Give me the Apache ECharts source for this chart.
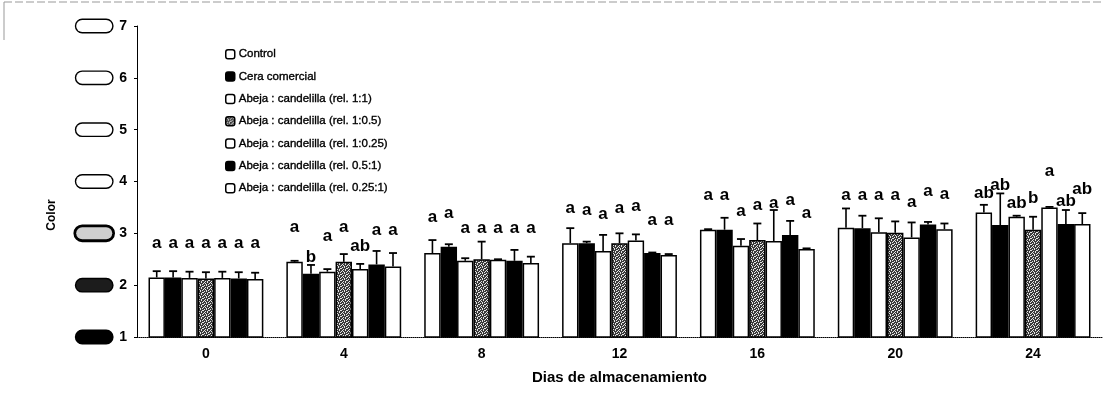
<!DOCTYPE html>
<html><head><meta charset="utf-8">
<script src="https://cdn.jsdelivr.net/npm/echarts@6/dist/echarts.min.js"></script>
<style>html,body{margin:0;padding:0;background:#fff}#c{width:1108px;height:408px}</style>
</head><body><div id="c"></div>
<script>
// ---- data ----
const categories = ['0', '4', '8', '12', '16', '20', '24'];
const seriesNames = [
  'Control',
  'Cera comercial',
  'Abeja : candelilla (rel. 1:1)',
  'Abeja : candelilla (rel. 1:0.5)',
  'Abeja : candelilla (rel. 1:0.25)',
  'Abeja : candelilla (rel. 0.5:1)',
  'Abeja : candelilla (rel. 0.25:1)'
];
const control      = [2.15, 2.45, 2.62, 2.81, 3.07, 3.11, 3.40];
const ceraComercial= [2.15, 2.22, 2.74, 2.81, 3.07, 3.10, 3.16];
const rel1_1       = [2.14, 2.26, 2.47, 2.66, 2.76, 3.02, 3.32];
const rel1_05      = [2.13, 2.45, 2.50, 2.81, 2.87, 3.01, 3.07];
const rel1_025     = [2.14, 2.31, 2.49, 2.86, 2.85, 2.92, 3.50];
const rel05_1      = [2.13, 2.40, 2.47, 2.62, 2.97, 3.17, 3.18];
const rel025_1     = [2.12, 2.36, 2.43, 2.58, 2.70, 3.08, 3.18];

const sdControl    = [0.12, 0.02, 0.25, 0.29, 0.01, 0.37, 0.15];
const sdCera       = [0.12, 0.17, 0.05, 0.03, 0.23, 0.24, 0.61];
const sd1_1        = [0.12, 0.05, 0.05, 0.31, 0.13, 0.27, 0.02];
const sd1_05       = [0.12, 0.15, 0.34, 0.19, 0.32, 0.22, 0.25];
const sd1_025      = [0.12, 0.10, 0.01, 0.12, 0.60, 0.29, 0.01];
const sd05_1       = [0.12, 0.26, 0.21, 0.01, 0.27, 0.05, 0.27];
const sd025_1      = [0.12, 0.26, 0.12, 0.02, 0.01, 0.11, 0.21];

const lettersControl = ['a','a','a','a','a','a','ab'];
const lettersCera    = ['a','b','a','a','a','a','ab'];
const letters1_1     = ['a','a','a','a','a','a','ab'];
const letters1_05    = ['a','a','a','a','a','a','b'];
const letters1_025   = ['a','ab','a','a','a','a','a'];
const letters05_1    = ['a','a','a','a','a','a','ab'];
const letters025_1   = ['a','a','a','a','a','a','ab'];

// height (in colour-scale units) at which each letter annotation sits
const letterLevelControl = [2.81, 3.12, 3.30, 3.49, 3.74, 3.74, 3.77];
const letterLevelCera    = [2.81, 2.54, 3.39, 3.45, 3.74, 3.74, 3.93];
const letterLevel1_1     = [2.81, 2.95, 3.10, 3.36, 3.42, 3.74, 3.58];
const letterLevel1_05    = [2.81, 3.12, 3.10, 3.49, 3.55, 3.74, 3.68];
const letterLevel1_025   = [2.81, 2.74, 3.10, 3.52, 3.58, 3.60, 4.19];
const letterLevel05_1    = [2.81, 3.06, 3.10, 3.26, 3.64, 3.82, 3.61];
const letterLevel025_1   = [2.81, 3.06, 3.10, 3.26, 3.39, 3.76, 3.84];

const yTicks = [1, 2, 3, 4, 5, 6, 7];

// ---- build ----
const values = [control, ceraComercial, rel1_1, rel1_05, rel1_025, rel05_1, rel025_1];
const sds = [sdControl, sdCera, sd1_1, sd1_05, sd1_025, sd05_1, sd025_1];
const letters = [lettersControl, lettersCera, letters1_1, letters1_05, letters1_025, letters05_1, letters025_1];
const letterLevels = [letterLevelControl, letterLevelCera, letterLevel1_1, letterLevel1_05, letterLevel1_025, letterLevel05_1, letterLevel025_1];

function speckle() {
  const c = document.createElement('canvas');
  c.width = 6; c.height = 6;
  const g = c.getContext('2d');
  g.fillStyle = '#3a3a3a'; g.fillRect(0, 0, 6, 6);
  g.fillStyle = '#e6e6e6';
  [[0,0],[3,0],[1,1],[4,2],[0,3],[2,3],[5,4],[3,5],[1,5],[5,1],[2,2],[4,4]].forEach(p => g.fillRect(p[0], p[1], 1, 1));
  return c;
}
const FONT = '"Liberation Sans", Arial, sans-serif';
const colors = ['#ffffff', '#000000', '#ffffff', { image: speckle(), repeat: 'repeat' }, '#ffffff', '#000000', '#ffffff'];
const GAP = '16.7%';

const series = [];
seriesNames.forEach((name, i) => {
  series.push({
    type: 'bar', name, data: values[i],
    barGap: '0%', barCategoryGap: GAP,
    itemStyle: { color: colors[i], borderColor: '#000', borderWidth: 1.5 },
    z: 2
  });
});
seriesNames.forEach((name, i) => {
  series.push({
    type: 'custom', name: 'err' + i, z: 3, silent: true,
    data: categories.map((c, j) => [j, values[i][j], sds[i][j], letterLevels[i][j]]),
    encode: { x: 0, y: 1 },
    renderItem: (params, api) => {
      const layout = api.barLayout({ barGap: '0%', barCategoryGap: GAP, count: seriesNames.length });
      const j = api.value(0);
      const v = api.value(1);
      const base = api.coord([j, v]);
      const top = api.coord([j, v + api.value(2)]);
      const ly = api.coord([j, api.value(3)])[1];
      const x = base[0] + layout[i].offsetCenter;
      const hw = 4;
      return {
        type: 'group', children: [
          { type: 'line', shape: { x1: x, y1: base[1], x2: x, y2: top[1] }, style: { stroke: '#000', lineWidth: 1.6 } },
          { type: 'line', shape: { x1: x - hw, y1: top[1], x2: x + hw, y2: top[1] }, style: { stroke: '#000', lineWidth: 1.8 } },
          { type: 'text', style: { text: letters[i][params.dataIndex], x: x, y: ly, align: 'center', verticalAlign: 'middle', font: 'bold 17px ' + FONT, fill: '#000' } }
        ]
      };
    }
  });
});

const ell = { width: 36, height: 12, borderRadius: 6, borderColor: '#000', borderWidth: 1.4, backgroundColor: '#fff' };
const option = {
  animation: false,
  backgroundColor: '#fff',
  textStyle: { fontFamily: FONT },
  grid: { left: 137, right: 6, top: 26, bottom: 71, containLabel: false },
  legend: {
    data: seriesNames, orient: 'vertical', left: 220, top: 43,
    itemWidth: 9, itemHeight: 9, itemGap: 10,
    itemStyle: { borderWidth: 1.5 },
    textStyle: { fontSize: 11.5, color: '#000', lineHeight: 12, fontFamily: FONT, textBorderColor: '#000', textBorderWidth: 0.35, padding: [0, 0, 0, -1] },
    selectedMode: false
  },
  xAxis: {
    type: 'category', data: categories,
    axisLine: { lineStyle: { color: '#000', type: 'dotted', width: 1 } },
    axisTick: { show: false },
    axisLabel: { fontSize: 14, fontWeight: 'bold', color: '#000', margin: 10, fontFamily: FONT },
    name: 'Dias de almacenamiento', nameLocation: 'middle', nameGap: 33,
    nameTextStyle: { fontSize: 15, fontWeight: 'bold', color: '#000', fontFamily: FONT }
  },
  yAxis: {
    type: 'value', min: 1, max: 7, interval: 1,
    axisLine: { show: true, lineStyle: { color: '#000', width: 1 } },
    axisTick: { show: true, length: 3, lineStyle: { color: '#000' } },
    splitLine: { show: false },
    axisLabel: {
      margin: 10,
      formatter: v => '{e' + v + '| }{n|' + v + '}',
      rich: {
        e7: Object.assign({}, ell, { color: '#777', fontSize: 7, align: 'center' }),
        e6: ell, e5: ell, e4: ell,
        e3: Object.assign({}, ell, { borderWidth: 2.8, backgroundColor: '#cfcfcf' }),
        e2: Object.assign({}, ell, { backgroundColor: '#1c1c1c' }),
        e1: Object.assign({}, ell, { backgroundColor: '#000' }),
        n: { fontSize: 14, fontWeight: 'bold', color: '#000', padding: [0, 0, 0, 7], fontFamily: FONT }
      }
    }
  },
  graphic: [
    { type: 'text', x: 52, y: 215, rotation: Math.PI / 2, style: { text: 'Color', font: 'bold 12px ' + FONT, fill: '#000', align: 'center', verticalAlign: 'middle' } },
    { type: 'line', shape: { x1: 4, y1: 2, x2: 1104, y2: 2 }, style: { stroke: '#999', lineWidth: 1, lineDash: [8, 3] } },
    { type: 'line', shape: { x1: 4, y1: 2, x2: 4, y2: 40 }, style: { stroke: '#999', lineWidth: 1 } }
  ],
  series
};
const chart = echarts.init(document.getElementById('c'));
chart.setOption(option);
</script>
</body></html>
